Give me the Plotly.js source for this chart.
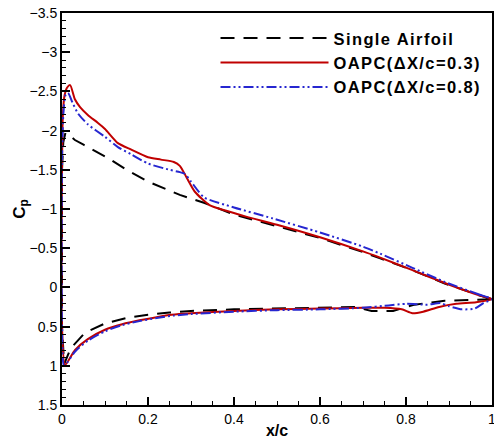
<!DOCTYPE html>
<html>
<head>
<meta charset="utf-8">
<script src="https://cdn.plot.ly/plotly-3.0.1.min.js"></script>
<style>html,body{margin:0;padding:0;background:#fff;}#chart{width:494px;height:439px;}
.legendtext{letter-spacing:1.4px;}</style>
</head>
<body>
<div id="chart"></div>
<script>
// Single Airfoil: upper surface (TE -> LE), then lower surface (LE -> TE)
const singleX = [1.0, 0.97, 0.89, 0.815, 0.74, 0.7, 0.6, 0.5, 0.4, 0.33, 0.274, 0.2, 0.15, 0.107, 0.088, 0.05, 0.03, 0.015, 0.008, 0.003, 0.0, 0.0, 0.005,
                 0.02, 0.053, 0.1, 0.15, 0.2, 0.25, 0.3, 0.4, 0.5, 0.6, 0.68, 0.72, 0.77, 0.82, 0.89, 0.95, 1.0];
const singleCp = [0.15, 0.1, -0.05, -0.22, -0.37, -0.45, -0.63, -0.78, -0.93, -1.08, -1.18, -1.35, -1.5, -1.65, -1.71, -1.82, -1.88, -1.95, -1.97, -1.85, -1.5, 0.5, 0.98,
                  0.78, 0.58, 0.46, 0.39, 0.35, 0.32, 0.3, 0.28, 0.27, 0.26, 0.25, 0.3, 0.3, 0.22, 0.17, 0.16, 0.15];

// OAPC (dX/c = 0.3)
const oapc03X = [1.0, 0.97, 0.893, 0.815, 0.74, 0.7, 0.6, 0.5, 0.43, 0.38, 0.343, 0.309, 0.29, 0.274, 0.26, 0.23, 0.2, 0.16, 0.13, 0.1, 0.083, 0.06, 0.042, 0.03, 0.019, 0.012, 0.006, 0.002, 0.0, 0.0, 0.007,
                 0.03, 0.06, 0.1, 0.14, 0.18, 0.22, 0.255, 0.3, 0.4, 0.5, 0.6, 0.7, 0.75, 0.79, 0.815, 0.84, 0.877, 0.917, 0.963, 1.0];
const oapc03Cp = [0.15, 0.1, -0.05, -0.22, -0.38, -0.46, -0.64, -0.8, -0.9, -0.98, -1.05, -1.22, -1.4, -1.55, -1.6, -1.63, -1.66, -1.76, -1.84, -2.02, -2.1, -2.2, -2.3, -2.4, -2.58, -2.55, -2.45, -2.2, -1.5, 0.5, 0.99,
                  0.8, 0.66, 0.54, 0.47, 0.42, 0.38, 0.35, 0.33, 0.3, 0.28, 0.27, 0.26, 0.26, 0.28, 0.33, 0.31, 0.25, 0.21, 0.19, 0.15];

// OAPC (dX/c = 0.8)
const oapc08X = [1.0, 0.97, 0.89, 0.815, 0.74, 0.7, 0.6, 0.49, 0.4, 0.33, 0.3, 0.285, 0.274, 0.25, 0.2, 0.16, 0.13, 0.1, 0.06, 0.037, 0.025, 0.014, 0.008, 0.003, 0.0, 0.0, 0.005,
                 0.03, 0.06, 0.1, 0.14, 0.18, 0.22, 0.26, 0.3, 0.4, 0.5, 0.6, 0.7, 0.76, 0.8, 0.85, 0.88, 0.9, 0.93, 0.96, 0.98, 1.0];
const oapc08Cp = [0.15, 0.09, -0.07, -0.25, -0.43, -0.52, -0.7, -0.88, -1.02, -1.15, -1.35, -1.45, -1.47, -1.5, -1.58, -1.7, -1.79, -1.92, -2.08, -2.22, -2.35, -2.48, -2.45, -2.2, -1.6, 0.5, 1.0,
                  0.82, 0.68, 0.56, 0.48, 0.43, 0.39, 0.36, 0.34, 0.31, 0.29, 0.28, 0.26, 0.23, 0.21, 0.22, 0.2, 0.24, 0.28, 0.27, 0.2, 0.15];

const seriesNames = ['Single Airfoil', 'OAPC(\u0394X/c=0.3)', 'OAPC(\u0394X/c=0.8)'];

const traces = [
  {x: singleX, y: singleCp, name: seriesNames[0], mode: 'lines',
   line: {color: '#000000', width: 2, dash: '14px,9px'}},
  {x: oapc03X, y: oapc03Cp, name: seriesNames[1], mode: 'lines',
   line: {color: '#c00000', width: 2, shape: 'spline', smoothing: 0.6}},
  {x: oapc08X, y: oapc08Cp, name: seriesNames[2], mode: 'lines',
   line: {color: '#2626d0', width: 2, dash: '10px,3px,2px,3px,2px,3px', shape: 'spline', smoothing: 0.6}}
];

const font = {family: 'Liberation Sans, Arial, sans-serif', color: '#000'};

const layout = {
  width: 494, height: 439,
  margin: {l: 62, r: 2, t: 13, b: 34},
  paper_bgcolor: '#fff', plot_bgcolor: '#fff',
  showlegend: true,
  legend: {x: 0.357, y: 0.98, xanchor: 'left', yanchor: 'top', bgcolor: 'rgba(0,0,0,0)',
           font: {family: font.family, size: 16.5, color: '#000', weight: 'bold'},
           itemwidth: 108, tracegroupgap: 0},
  xaxis: {
    range: [0, 1], dtick: 0.2, tick0: 0,
    ticks: 'inside', ticklen: 8, tickwidth: 2, tickcolor: '#000',
    minor: {dtick: 0.05, ticks: 'inside', ticklen: 4, tickwidth: 1, tickcolor: '#000'},
    showline: true, linewidth: 2, linecolor: '#000', mirror: true,
    showgrid: false, zeroline: false, ticklabeloverflow: 'allow',
    tickfont: {family: font.family, size: 14, color: '#000'},
    title: {text: 'x/c', font: {family: font.family, size: 16, color: '#000', weight: 'bold'}, standoff: 0}
  },
  yaxis: {
    range: [1.5, -3.5], dtick: 0.5, tick0: 0,
    ticks: 'inside', ticklen: 8, tickwidth: 2, tickcolor: '#000',
    minor: {dtick: 0.1, ticks: 'inside', ticklen: 4, tickwidth: 1, tickcolor: '#000'},
    showline: true, linewidth: 2, linecolor: '#000', mirror: true,
    showgrid: false, zeroline: false, ticklabeloverflow: 'allow',
    tickfont: {family: font.family, size: 14, color: '#000'},
    title: {text: 'C<sub>p</sub>', font: {family: font.family, size: 17, color: '#000', weight: 'bold'}, standoff: 0}
  }
};

Plotly.newPlot('chart', traces, layout, {staticPlot: true, displayModeBar: false});
</script>
</body>
</html>
